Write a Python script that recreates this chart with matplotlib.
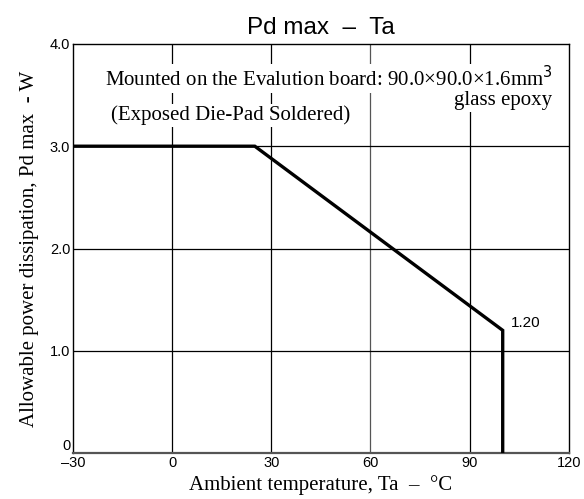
import matplotlib
matplotlib.use("Agg")
import matplotlib.pyplot as plt

# derating curve, Pd max vs ambient temperature
ta = [-30, 25, 100, 100]
pd_max = [3.0, 3.0, 1.2, 0.0]

xticks = [-30, 0, 30, 60, 90, 120]
xlabels = ["\u201330", "0", "30", "60", "90", "120"]
yticks = [0, 1, 2, 3, 4]
ylabels = ["0", "1.0", "2.0", "3.0", "4.0"]

serif = "Liberation Serif"
sans = "Liberation Sans"

fig = plt.figure(figsize=(5.84, 4.99), dpi=100)
ax = fig.add_axes([0.125, 0.092, 0.849, 0.82])

ax.set_xlim(-30, 120)
ax.set_ylim(0, 4)
ax.set_xticks(xticks)
ax.set_xticklabels(xlabels, family=sans, fontsize=10.5)
ax.set_yticks(yticks)
ax.set_yticklabels(ylabels, family=sans, fontsize=10.5)
ax.tick_params(length=0, pad=2)
ax.get_yticklabels()[0].set_va("bottom")

for x in [0, 30, 60, 90]:
    ax.axvline(x, color="#555555" if x == 60 else "black", lw=0.9, zorder=1)
for y in [1, 2, 3]:
    ax.axhline(y, color="black", lw=0.9, zorder=1)

for s in ax.spines.values():
    s.set_linewidth(1.0)
ax.spines["bottom"].set_color("#555555")
ax.spines["bottom"].set_linewidth(1.6)

ax.plot(ta, pd_max, color="black", lw=2.4, solid_joinstyle="miter", zorder=3)
ax.text(ta[2] + 2.5, pd_max[2], "%.2f" % pd_max[2], family=sans, fontsize=11,
        va="bottom", ha="left")

box = dict(facecolor="white", edgecolor="none", pad=1.5)
ax.text(115, 3.66, "Mounted on the Evalution board: 90.0\u00d790.0\u00d71.6mm$^3$",
        family=serif, fontsize=15, ha="right", va="center", bbox=box, zorder=4)
ax.text(115, 3.45, "glass epoxy", family=serif, fontsize=15,
        ha="right", va="center", bbox=box, zorder=4)
ax.text(-18.5, 3.30, "(Exposed Die-Pad Soldered)", family=serif, fontsize=15,
        ha="left", va="center", bbox=box, zorder=4)

ax.set_title("Pd max  \u2013  Ta", family=sans, fontsize=17.5, pad=7)
ax.set_xlabel("Ambient temperature, Ta  \u2013  \u00b0C", family=serif, fontsize=15, labelpad=4)
ax.set_ylabel("Allowable power dissipation, Pd max  - W", family=serif, fontsize=15, labelpad=8)

fig.savefig("out.png", dpi=100)
